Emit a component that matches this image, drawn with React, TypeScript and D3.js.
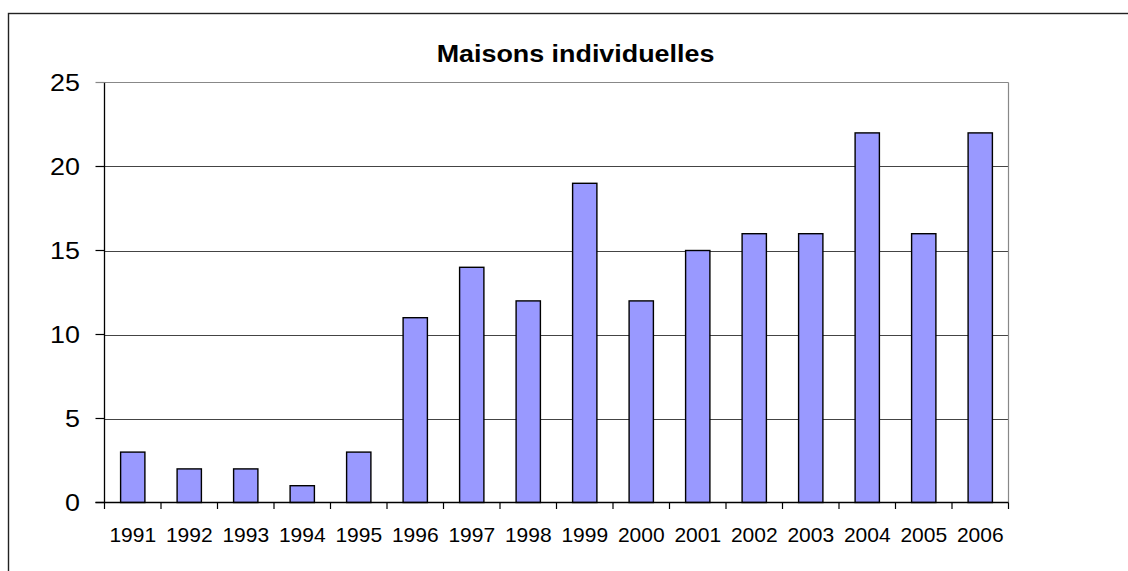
import React from "react";
import * as d3 from "d3";

const title = "Maisons individuelles";
const years = ["1991","1992","1993","1994","1995","1996","1997","1998","1999","2000","2001","2002","2003","2004","2005","2006"];
const values = [3, 2, 2, 1, 3, 11, 14, 12, 19, 12, 15, 16, 16, 22, 16, 22];
const yTicks = [0, 5, 10, 15, 20, 25];

const W = 1128, H = 571;
const plot = { left: 104.5, right: 1008.5, top: 82.5, bottom: 502.5 };
const SX = 1.12;

export default function App() {
  const x = d3.scaleBand<string>().domain(years).range([plot.left, plot.right]).paddingInner(0.57).paddingOuter(0.285);
  const xb = d3.scaleBand<string>().domain(years).range([plot.left, plot.right]);
  const y = d3.scaleLinear().domain([0, 25]).range([plot.bottom, plot.top]);
  const font = "Liberation Sans, Arial, sans-serif";
  return (
    <svg width={W} height={H} style={{ position: "absolute", left: 0, top: 0, background: "#fff" }}>
      <rect x={8.5} y={13.5} width={1140} height={600} fill="#fff" stroke="#222" strokeWidth={1.4} />
      {yTicks.filter(t => t > 0 && t < 25).map(t => (
        <line key={t} x1={plot.left} x2={plot.right} y1={Math.round(y(t)) + 0.5} y2={Math.round(y(t)) + 0.5} stroke="#444" strokeWidth={1} />
      ))}
      <line x1={plot.left} x2={plot.right} y1={plot.top} y2={plot.top} stroke="#888" strokeWidth={1.2} />
      <line x1={plot.right} x2={plot.right} y1={plot.top} y2={plot.bottom} stroke="#888" strokeWidth={1.2} />
      {years.map((yr, i) => (
        <rect key={yr} x={x(yr)} y={y(values[i])} width={x.bandwidth()} height={plot.bottom - y(values[i])}
          fill="#9999FF" stroke="#000" strokeWidth={1.4} />
      ))}
      <line x1={plot.left} x2={plot.left} y1={plot.top} y2={plot.bottom} stroke="#000" strokeWidth={1.3} />
      <line x1={plot.left - 9} x2={plot.right} y1={plot.bottom} y2={plot.bottom} stroke="#000" strokeWidth={1.3} />
      {yTicks.map(t => (
        <g key={t}>
          <line x1={plot.left - 9} x2={plot.left} y1={y(t)} y2={y(t)} stroke={t === 25 ? "#888" : "#000"} strokeWidth={1.2} />
          <text transform={`translate(${80},${y(t) + 8.7}) scale(${SX},1)`} textAnchor="end" fontFamily={font} fontSize={24} fill="#000">{t}</text>
        </g>
      ))}
      {years.map(yr => (
        <line key={"t" + yr} x1={xb(yr)} x2={xb(yr)} y1={plot.bottom} y2={plot.bottom + 6.5} stroke="#000" strokeWidth={1.2} />
      ))}
      <line x1={plot.right} x2={plot.right} y1={plot.bottom} y2={plot.bottom + 6.5} stroke="#000" strokeWidth={1.2} />
      {years.map(yr => (
        <text key={"l" + yr} transform={`translate(${(x(yr) as number) + x.bandwidth() / 2},${542}) scale(1,1)`} textAnchor="middle" fontFamily={font} fontSize={21} fill="#000">{yr}</text>
      ))}
      <text transform={`translate(575.5,62) scale(${SX},1)`} textAnchor="middle" fontFamily={font} fontSize={24} fontWeight="bold" fill="#000">{title}</text>
    </svg>
  );
}
